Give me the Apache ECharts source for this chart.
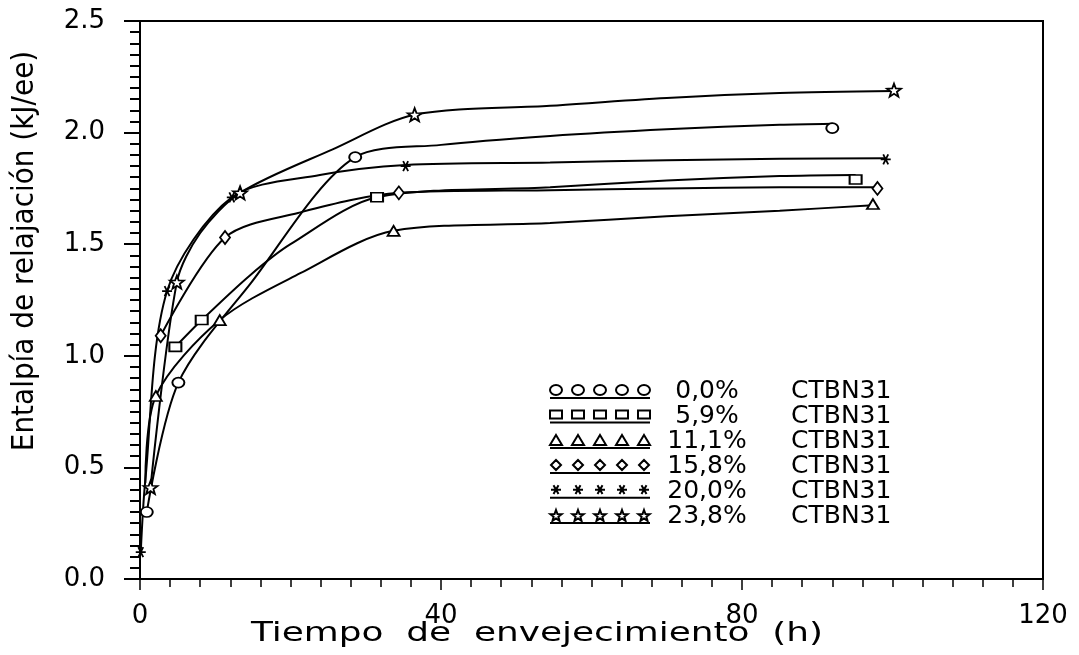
<!DOCTYPE html>
<html>
<head>
<meta charset="utf-8">
<script src="https://cdn.jsdelivr.net/npm/echarts@6/dist/echarts.min.js"></script>
<style>
  html, body { margin: 0; padding: 0; background: #fff; }
  #chart { width: 1079px; height: 655px; }
</style>
</head>
<body>
<div id="chart"></div>
<script>
// Relaxation enthalpy vs. ageing time for six CTBN31 contents
const seriesNames = ['0,0% CTBN31', '5,9% CTBN31', '11,1% CTBN31', '15,8% CTBN31', '20,0% CTBN31', '23,8% CTBN31'];

// measured points [ageing time (h), enthalpy (kJ/ee)]
const pts00  = [[0.9, 0.30], [5.1, 0.88], [28.6, 1.89], [92.0, 2.02]];
const pts59  = [[4.7, 1.04], [8.2, 1.16], [31.5, 1.71], [95.1, 1.79]];
const pts111 = [[2.1, 0.82], [10.6, 1.16], [33.7, 1.56], [97.4, 1.68]];
const pts158 = [[2.75, 1.09], [11.3, 1.53], [34.4, 1.73], [98.0, 1.75]];
const pts200 = [[0.1, 0.12], [3.6, 1.29], [12.2, 1.71], [35.3, 1.85], [99.1, 1.88]];
const pts238 = [[1.4, 0.41], [4.9, 1.33], [13.3, 1.73], [36.5, 2.08], [100.2, 2.19]];

// fitted trend curves through each set
const fit00  = [[0.9, 0.30], [5.1, 0.88], [14.6, 1.32], [28.6, 1.89], [40, 1.945], [54.5, 1.985], [70, 2.015], [85, 2.035], [92, 2.04]];
const fit59  = [[4.7, 1.04], [8.2, 1.16], [14.6, 1.36], [20, 1.50], [31.5, 1.71], [54.5, 1.755], [70, 1.785], [85, 1.805], [95.1, 1.81]];
const fit111 = [[0.7, 0.43], [2.1, 0.82], [10.6, 1.16], [21.3, 1.37], [33.7, 1.56], [54.5, 1.595], [70, 1.625], [85, 1.65], [97.4, 1.675]];
const fit158 = [[2.75, 1.09], [11.3, 1.53], [21, 1.64], [34.4, 1.73], [54.5, 1.742], [70, 1.75], [85, 1.755], [98, 1.755]];
const fit200 = [[0.1, 0.12], [0.7, 0.44], [3.6, 1.29], [12.2, 1.71], [23.9, 1.81], [35.3, 1.855], [54.5, 1.866], [70, 1.876], [85, 1.883], [99.1, 1.885]];
const fit238 = [[1.4, 0.41], [4.9, 1.33], [8.0, 1.55], [13.3, 1.73], [25.6, 1.925], [36.5, 2.08], [54.5, 2.12], [70, 2.155], [85, 2.177], [100.2, 2.186]];

const pointSets = [pts00, pts59, pts111, pts158, pts200, pts238];
const fitSets = [fit00, fit59, fit111, fit158, fit200, fit238];

// marker glyphs drawn in a 12 x 10 box starting at x
function ellipse(x) {
  const cx = x + 6, cy = 5, rx = 6, ry = 5, k = 0.5523;
  return `M${cx - rx},${cy} C${cx - rx},${cy - k * ry} ${cx - k * rx},${cy - ry} ${cx},${cy - ry} ` +
         `C${cx + k * rx},${cy - ry} ${cx + rx},${cy - k * ry} ${cx + rx},${cy} ` +
         `C${cx + rx},${cy + k * ry} ${cx + k * rx},${cy + ry} ${cx},${cy + ry} ` +
         `C${cx - k * rx},${cy + ry} ${cx - rx},${cy + k * ry} ${cx - rx},${cy} Z`;
}
function box(x) { return `M${x},1 L${x + 12},1 L${x + 12},9 L${x},9 Z`; }
function tri(x) { return `M${x + 6},0 L${x + 12},10 L${x},10 Z`; }
function dia(x) { return `M${x + 6},0 L${x + 11},5 L${x + 6},10 L${x + 1},5 Z`; }
function aster(x) {
  return `M${x + 1},5 L${x + 11},5 M${x + 3.5},0.7 L${x + 8.5},9.3 M${x + 8.5},0.7 L${x + 3.5},9.3`;
}
function star(x) {
  const cx = x + 6, cy = 6, R = 6, r = 2.5;
  let d = '';
  for (let i = 0; i < 10; i++) {
    const a = -Math.PI / 2 + i * Math.PI / 5;
    const rad = i % 2 === 0 ? R : r;
    d += (i === 0 ? 'M' : 'L') + (cx + rad * Math.cos(a)).toFixed(2) + ',' + (cy + rad * Math.sin(a)).toFixed(2) + ' ';
  }
  return d + 'Z';
}
const glyphs = [ellipse, box, tri, dia, aster, star];
const symbolSizes = [[12, 10], [12, 9], [12, 10], [10, 13], [10, 10], [14, 13]];

// legend key: five glyphs over an underline
function legendIcon(g) {
  let d = '';
  for (let k = 0; k < 5; k++) d += g(k * 22) + ' ';
  return 'path://' + d + 'M0,13 L100,13';
}

const textFont = '"DejaVu Sans", "Liberation Sans", sans-serif';
const narrowFont = '"Liberation Sans Narrow", "DejaVu Sans Condensed", "Liberation Sans", sans-serif';

const series = [];
fitSets.forEach((fit) => {
  series.push({
    type: 'line',
    data: fit,
    smooth: 0.3,
    showSymbol: false,
    silent: true,
    lineStyle: { color: '#000', width: 2 },
    z: 2
  });
});
pointSets.forEach((pts, i) => {
  series.push({
    name: seriesNames[i],
    type: 'scatter',
    data: pts,
    symbol: 'path://' + glyphs[i](0),
    symbolSize: symbolSizes[i],
    itemStyle: { color: '#fff', borderColor: '#000', borderWidth: 1.8, opacity: 1 },
    z: 3
  });
});

const chart = echarts.init(document.getElementById('chart'), null, { renderer: 'canvas' });
chart.setOption({
  animation: false,
  backgroundColor: '#fff',
  grid: {
    left: 140, right: 36, top: 21, bottom: 76,
    show: true, borderColor: '#000', borderWidth: 2, backgroundColor: 'transparent'
  },
  xAxis: {
    type: 'value', min: 0, max: 120, interval: 40,
    axisLine: { lineStyle: { color: '#000', width: 2 } },
    axisTick: { show: true, length: 11, lineStyle: { color: '#000', width: 1.5 } },
    minorTick: { show: true, splitNumber: 10, length: 8, lineStyle: { color: '#000', width: 1.5 } },
    splitLine: { show: false },
    axisLabel: { color: '#000', fontFamily: textFont, fontSize: 26, margin: 24 }
  },
  yAxis: {
    type: 'value', min: 0, max: 2.5, interval: 0.5,
    axisLine: { lineStyle: { color: '#000', width: 2 } },
    axisTick: { show: true, length: 16, lineStyle: { color: '#000', width: 2 } },
    minorTick: { show: true, splitNumber: 10, length: 10, lineStyle: { color: '#000', width: 2 } },
    splitLine: { show: false },
    axisLabel: { color: '#000', fontFamily: textFont, fontSize: 26, margin: 35,
      formatter: v => v.toFixed(1) }
  },
  legend: {
    left: 549, top: 379, orient: 'vertical', padding: 0,
    itemWidth: 100, itemHeight: 13, itemGap: 0,
    selectedMode: false,
    data: seriesNames.map((n, i) => ({ name: n, icon: legendIcon(glyphs[i]) })),
    formatter: name => {
      const parts = name.split(' ');
      return `{p|${parts[0]}}{c|${parts[1]}}`;
    },
    textStyle: {
      color: '#000',
      rich: {
        p: { fontFamily: textFont, fontSize: 25, width: 104, align: 'right', lineHeight: 24, color: '#000' },
        c: { fontFamily: textFont, fontSize: 25, padding: [0, 0, 0, 32], lineHeight: 24, color: '#000' }
      }
    }
  },
  graphic: [
    {
      type: 'text', x: 25, y: 251, rotation: Math.PI / 2,
      style: { text: 'Entalpía de relajación (kJ/ee)', font: '31px ' + narrowFont,
        align: 'center', verticalAlign: 'middle', fill: '#000' }
    },
    {
      type: 'text', x: 537, y: 634, scaleX: 1.38,
      style: { text: 'Tiempo  de  envejecimiento  (h)', font: '26px ' + textFont,
        align: 'center', verticalAlign: 'middle', fill: '#000' }
    }
  ],
  series: series
});
</script>
</body>
</html>
